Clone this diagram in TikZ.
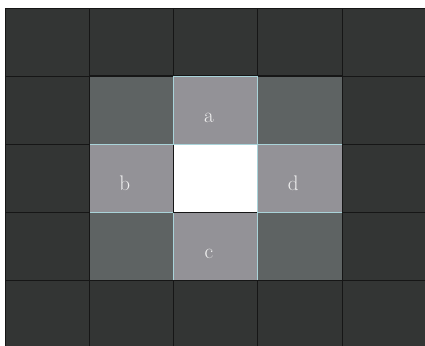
\documentclass[tikz,border=0pt]{standalone}
\usetikzlibrary{calc}
\definecolor{cellfill}{HTML}{333534}
\definecolor{nearfill}{HTML}{5E6363}
\definecolor{crossfill}{HTML}{939297}
\definecolor{crossborder}{HTML}{A9D3D9}
\definecolor{gridline}{HTML}{161616}
\tikzset{
  cell/.style={rectangle, draw=gridline, line width=0.5pt, inner sep=0pt,
               minimum width=2.526cm, minimum height=2.04cm, fill=cellfill},
  nearcell/.style={cell, fill=nearfill},
  crosscell/.style={cell, fill=crossfill, draw=crossborder},
  centrecell/.style={cell, fill=white},
  lbl/.style={font=\fontsize{18}{20}\selectfont, text=white!94!black, anchor=base}
}
\def\cw{84.2}
\def\ch{68}

\begin{document}
\begin{tikzpicture}[x=0.03cm, y=-0.03cm]
\useasboundingbox (0,0) rectangle (425,346);
\clip (0,0) rectangle (425,346);

%% Outer grid of dark cells
\foreach \i in {0,...,4} {
  \foreach \j in {0,...,4} {
    \node[cell] (g-\i-\j) at ({5+\cw*(\i+0.5)}, {8+\ch*(\j+0.5)}) {};
  }
}

%% Diagonal neighbours
\node[nearcell] (nw) at (g-1-1) {};
\node[nearcell] (ne) at (g-3-1) {};
\node[nearcell] (sw) at (g-1-3) {};
\node[nearcell] (se) at (g-3-3) {};

%% Direct neighbours and centre
\node[crosscell] (b) at (g-1-2) {};
\node[crosscell] (c) at (g-2-3) {};
\node[centrecell] (centre) at (g-2-2) {};
\node[crosscell] (a) at (g-2-1) {};
\node[crosscell] (d) at (g-3-2) {};

% outline of the 3x3 block stays dark
\draw[gridline, line width=0.5pt] (nw.north west) rectangle (se.south east);

%% Labels, a little left of and below each centre
\node[lbl] (la) at ($(a)+(-6.5,12.5)$) {a};
\node[lbl] (lb) at ($(b)+(-6.5,12.5)$) {b};
\node[lbl] (lc) at ($(c)+(-6.5,12.5)$) {c};
\node[lbl] (ld) at ($(d)+(-6.5,12.5)$) {d};

\end{tikzpicture}
\end{document}
